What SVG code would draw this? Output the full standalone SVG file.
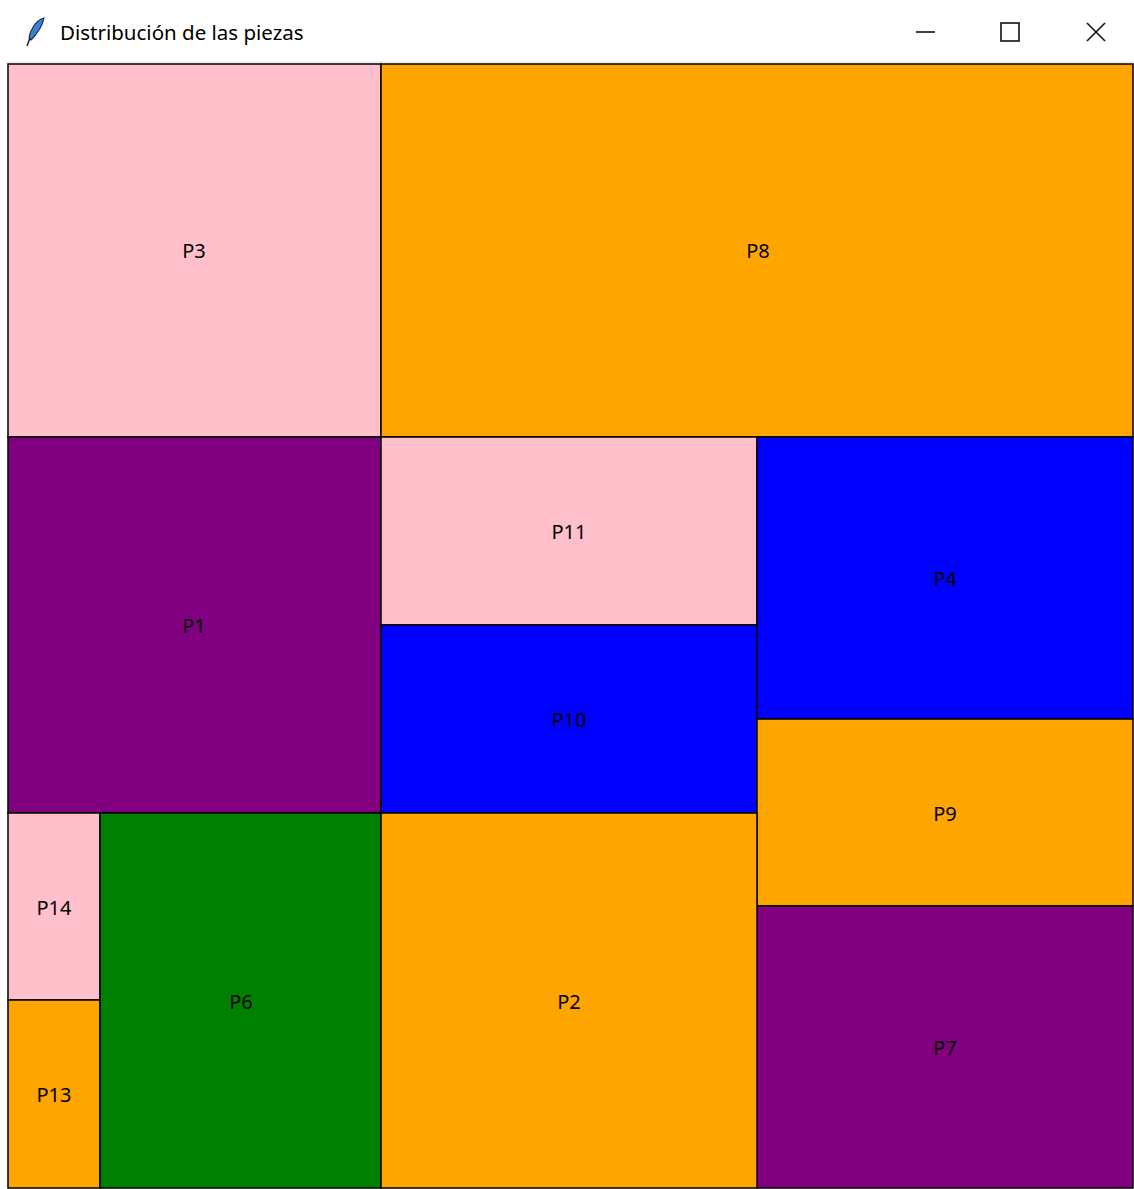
<svg xmlns="http://www.w3.org/2000/svg" width="1134" height="1189" viewBox="0 0 1134 1189">
<style>
.pc{stroke:#000;stroke-width:1.5}
.lb{font-family:"Noto Sans","DejaVu Sans",sans-serif;font-size:20px;fill:#000;text-anchor:middle;dominant-baseline:central}
.pink{fill:#ffc0cb}.orange{fill:#ffa500}.purple{fill:#800080}.blue{fill:#0000ff}.green{fill:#008000}
.ctl{stroke:#111;stroke-width:1.6;fill:none}
</style>
<rect x="0" y="0" width="1134" height="1189" fill="#ffffff"/>
<g id="titlebar">
<path d="M44,18 C36,20 30,30 29,38 L31,40 C37,34 42,28 44,18 Z" fill="#3f7fd0" stroke="#1a2d5a" stroke-width="1.2"/>
<path d="M30,38 L27,46" stroke="#222" stroke-width="1.5"/>
<text x="60" y="40" font-family="'Noto Sans','DejaVu Sans',sans-serif" font-size="20.5" fill="#000">Distribución de las piezas</text>
<line x1="916" y1="32" x2="935" y2="32" class="ctl"/>
<rect x="1001" y="23" width="18" height="18" class="ctl"/>
<path d="M1087,23 L1105,41 M1105,23 L1087,41" class="ctl"/>
</g>
<rect x="7" y="61" width="1127" height="1128" fill="#f0f0f0"/>
<g id="P3"><rect class="pc pink" x="8" y="64" width="373" height="373"/><text class="lb" x="194" y="250">P3</text></g>
<g id="P8"><rect class="pc orange" x="381" y="64" width="752" height="373"/><text class="lb" x="758" y="250">P8</text></g>
<g id="P1"><rect class="pc purple" x="8" y="437" width="373" height="376"/><text class="lb" x="194" y="625">P1</text></g>
<g id="P11"><rect class="pc pink" x="381" y="437" width="376" height="188"/><text class="lb" x="569" y="531">P11</text></g>
<g id="P10"><rect class="pc blue" x="381" y="625" width="376" height="188"/><text class="lb" x="569" y="719">P10</text></g>
<g id="P4"><rect class="pc blue" x="757" y="437" width="376" height="282"/><text class="lb" x="945" y="578">P4</text></g>
<g id="P9"><rect class="pc orange" x="757" y="719" width="376" height="187"/><text class="lb" x="945" y="813">P9</text></g>
<g id="P7"><rect class="pc purple" x="757" y="906" width="376" height="282"/><text class="lb" x="945" y="1047">P7</text></g>
<g id="P14"><rect class="pc pink" x="8" y="813" width="92" height="187"/><text class="lb" x="54" y="907">P14</text></g>
<g id="P13"><rect class="pc orange" x="8" y="1000" width="92" height="188"/><text class="lb" x="54" y="1094">P13</text></g>
<g id="P6"><rect class="pc green" x="100" y="813" width="281" height="375"/><text class="lb" x="241" y="1001">P6</text></g>
<g id="P2"><rect class="pc orange" x="381" y="813" width="376" height="375"/><text class="lb" x="569" y="1001">P2</text></g>
<g id="connectors"></g>
</svg>
